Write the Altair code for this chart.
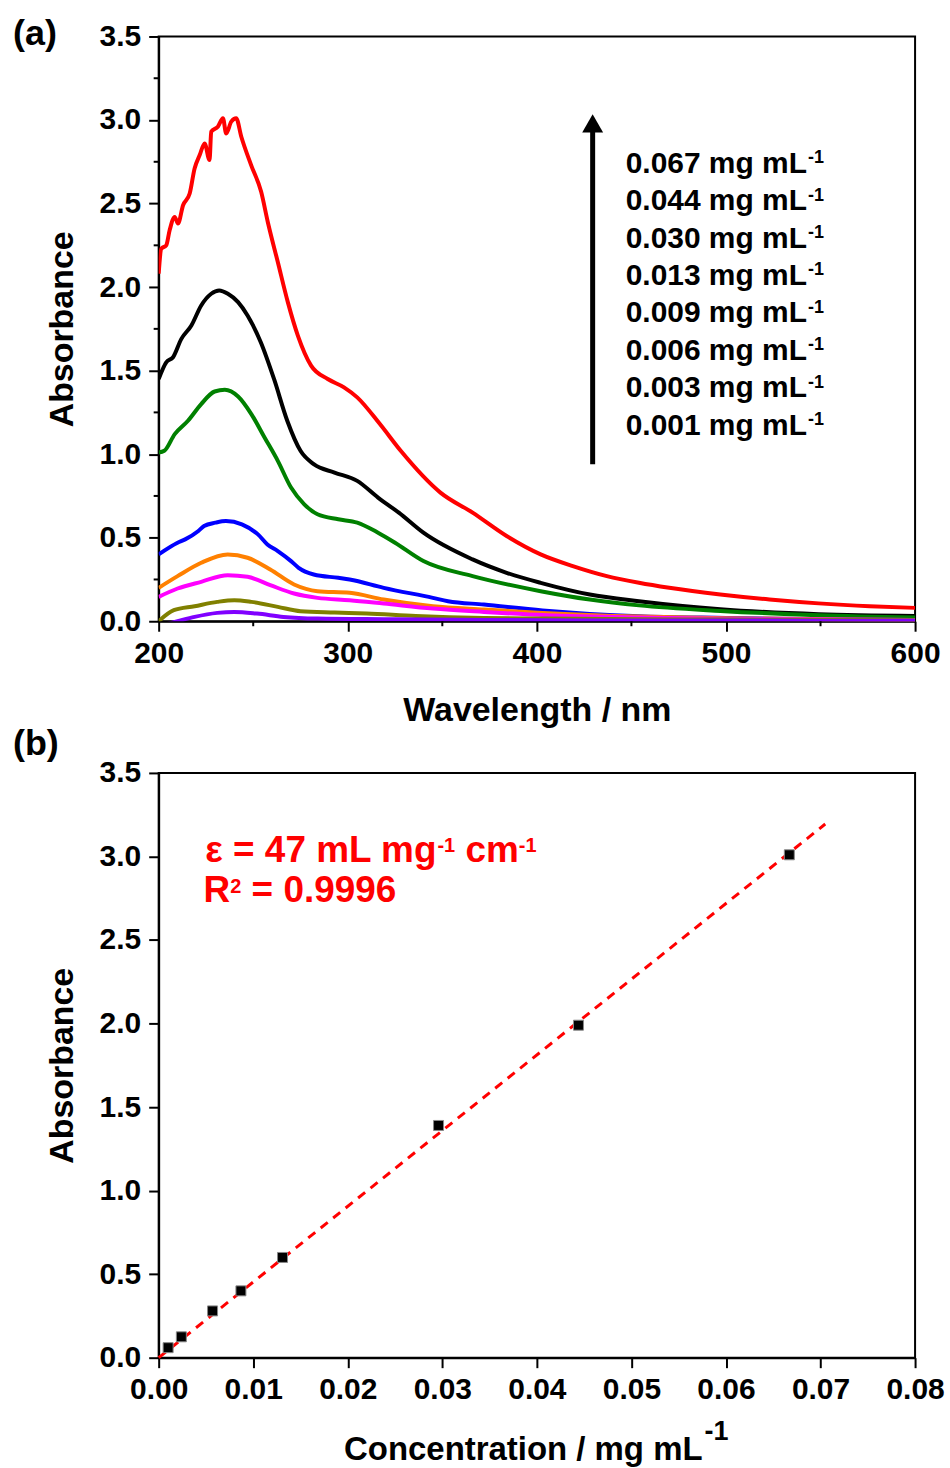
import altair as alt
import numpy as np
import pandas as pd

FONT = "Liberation Sans"

# ---------------- UV-vis spectra (panel a) ----------------
conc_labels = ["0.067", "0.044", "0.030", "0.013", "0.009", "0.006", "0.003", "0.001"]
line_colors = ["#FF0000", "#000000", "#008000", "#0000FF", "#FF8000", "#FF00FF", "#808000", "#8000FF"]

wl_067 = [200, 201.4, 204, 205.8, 208.5, 210.2, 212.9, 216.4, 219, 221.7,
          224.3, 226.9, 227.8, 231.3, 234, 235.7, 238.4, 241, 243.7, 248.9,
          254.2, 257.7, 263, 268.3, 273.6, 280.6, 289.4, 298, 305, 317,
          328, 349, 366, 384, 402, 419, 437, 454, 470, 497,
          523, 549, 576, 600]
abs_067 = [2.08, 2.23, 2.25, 2.34, 2.42, 2.38, 2.49, 2.56, 2.71, 2.79,
           2.86, 2.76, 2.93, 2.96, 3.01, 2.92, 2.99, 3.01, 2.90, 2.73,
           2.57, 2.39, 2.15, 1.91, 1.71, 1.53, 1.45, 1.40, 1.34, 1.18,
           1.02, 0.77, 0.65, 0.51, 0.40, 0.33, 0.27, 0.23, 0.20, 0.16,
           0.13, 0.107, 0.09, 0.08]

wl_044 = [200, 204, 207.6, 212, 217.3, 222.5, 227.8, 232, 236.6, 242,
          247, 254, 261, 268, 275, 282, 293, 305, 316, 327,
          340, 366, 384, 402, 428, 454, 497, 549, 600]
abs_044 = [1.45, 1.55, 1.58, 1.69, 1.77, 1.89, 1.96, 1.98, 1.96, 1.91,
           1.83, 1.67, 1.45, 1.20, 1.02, 0.94, 0.89, 0.84, 0.74, 0.65,
           0.53, 0.37, 0.29, 0.23, 0.16, 0.12, 0.072, 0.042, 0.032]

wl_030 = [200, 203, 208.5, 215.5, 222.5, 229.6, 235, 242, 249, 256,
          263, 270, 277, 284, 295, 305, 316, 325, 340, 366,
          402, 428, 454, 497, 549, 600]
abs_030 = [1.01, 1.02, 1.12, 1.20, 1.30, 1.375, 1.385, 1.345, 1.24, 1.10,
           0.96, 0.80, 0.70, 0.64, 0.61, 0.59, 0.53, 0.47, 0.36, 0.27,
           0.18, 0.13, 0.095, 0.062, 0.036, 0.022]

wl_013 = [200, 210, 214, 221, 224, 230, 235.6, 244, 252.5, 257.5,
          263, 270, 274, 282, 295, 301, 319, 345, 353, 372,
          403, 454, 500, 550, 600]
abs_013 = [0.40, 0.47, 0.49, 0.54, 0.57, 0.59, 0.60, 0.58, 0.52, 0.46,
           0.42, 0.36, 0.32, 0.28, 0.26, 0.25, 0.20, 0.14, 0.12, 0.10,
           0.065, 0.03, 0.02, 0.012, 0.008]

wl_009 = [200, 210, 222.5, 236.5, 247, 259, 271.6, 284, 301, 319,
          345, 372, 403, 454, 500, 550, 600]
abs_009 = [0.20, 0.27, 0.35, 0.40, 0.38, 0.31, 0.22, 0.18, 0.17, 0.13,
           0.09, 0.07, 0.05, 0.028, 0.018, 0.012, 0.008]

wl_006 = [200, 210, 222.5, 236.5, 247, 259, 271.6, 284, 301, 319,
          345, 372, 405, 454, 500, 550, 600]
abs_006 = [0.146, 0.196, 0.236, 0.276, 0.266, 0.216, 0.166, 0.14, 0.126, 0.106,
           0.076, 0.056, 0.036, 0.022, 0.015, 0.01, 0.007]

wl_003 = [200, 208, 219, 231, 240, 249, 263, 275, 293, 310,
          336, 372, 405, 454, 500, 550, 600]
abs_003 = [0.0, 0.066, 0.09, 0.116, 0.126, 0.116, 0.086, 0.06, 0.052, 0.046,
           0.032, 0.02, 0.016, 0.012, 0.01, 0.008, 0.006]

wl_001 = [200, 210, 219, 231, 240, 252, 266, 284, 319, 372, 405, 500, 600]
abs_001 = [-0.03, 0.0, 0.026, 0.05, 0.056, 0.046, 0.026, 0.016, 0.012, 0.008,
           0.006, 0.004, 0.003]

# ---------------- calibration points (panel b) ----------------
conc_points = [0.0010, 0.0024, 0.0057, 0.0087, 0.0131, 0.0296, 0.0444, 0.0667]
abs_points = [0.06, 0.125, 0.28, 0.40, 0.60, 1.39, 1.99, 3.01]
fit_x_max = 0.0705

y_ticks = [0.0, 0.5, 1.0, 1.5, 2.0, 2.5, 3.0, 3.5]
y_minor = [0.25, 0.75, 1.25, 1.75, 2.25, 2.75, 3.25]
wl_ticks = [200, 300, 400, 500, 600]
wl_minor = [250, 350, 450, 550]
conc_ticks = [0.0, 0.01, 0.02, 0.03, 0.04, 0.05, 0.06, 0.07, 0.08]

# arrow beside the concentration list (data units of panel a)
arrow_wl = 429.5
arrow_from, arrow_to, arrow_head = 0.94, 2.95, 2.98

W, H = 758, 586
EM_ARIAL_BOLD = {"0.067 mg mL": 6.058, "cm": 1.445, "-1": 0.889, "R": 0.722, "2": 0.556, " ": 0.278}


def text_layer(txt, x, y, size, color="black", align="left", baseline="alphabetic"):
    """A single piece of text placed in pixel units of the panel."""
    return alt.Chart(pd.DataFrame({"t": [txt]})).mark_text(
        align=align, baseline=baseline, font=FONT, fontSize=size, fontWeight="bold", color=color
    ).encode(text="t:N", x=alt.value(x), y=alt.value(y))


spectra = {
    "0.067": (wl_067, abs_067), "0.044": (wl_044, abs_044),
    "0.030": (wl_030, abs_030), "0.013": (wl_013, abs_013),
    "0.009": (wl_009, abs_009), "0.006": (wl_006, abs_006),
    "0.003": (wl_003, abs_003), "0.001": (wl_001, abs_001),
}
rows = []
for lab in conc_labels:
    wl, ab = spectra[lab]
    for w, a in zip(wl, ab):
        rows.append({"wl": w, "A": a, "conc": lab})
spec_df = pd.DataFrame(rows)

# ---------- panel (a) ----------
xa = alt.X("wl:Q", scale=alt.Scale(domain=[200, 600], nice=False, zero=False),
           axis=alt.Axis(values=wl_ticks, format="d", title="Wavelength / nm", titlePadding=25))
ya = alt.Y("A:Q", scale=alt.Scale(domain=[0, 3.5], nice=False),
           axis=alt.Axis(values=y_ticks, format=".1f", title="Absorbance"))

lines = alt.Chart(spec_df).mark_line(strokeWidth=4, clip=True, interpolate="monotone").encode(
    x=xa, y=ya,
    color=alt.Color("conc:N", scale=alt.Scale(domain=conc_labels, range=line_colors), legend=None),
)

minor_y_a = alt.Chart(pd.DataFrame({"A": y_minor})).mark_rule(color="black", strokeWidth=2).encode(
    y=ya, x=alt.value(0), x2=alt.value(-5))
minor_x_a = alt.Chart(pd.DataFrame({"wl": wl_minor})).mark_rule(color="black", strokeWidth=2).encode(
    x=xa, y=alt.value(H), y2=alt.value(H + 5))

arrow_shaft = alt.Chart(pd.DataFrame({"wl": [arrow_wl], "A": [arrow_from], "A2": [arrow_to]})).mark_rule(
    color="black", strokeWidth=5).encode(x=xa, y=ya, y2="A2:Q")
arrow_tip = alt.Chart(pd.DataFrame({"wl": [arrow_wl], "A": [arrow_head]})).mark_point(
    shape="triangle-up", size=440, filled=True, color="black", opacity=1).encode(x=xa, y=ya)

# concentration list: main text plus a raised "-1"
LEG_SIZE, LEG_SUP = 30, 18
leg_x = 468
leg_sup_x = leg_x + EM_ARIAL_BOLD["0.067 mg mL"] * LEG_SIZE + 1
legend_layers = []
for i, lab in enumerate(conc_labels):
    yc = 126 + 37.5 * i
    legend_layers.append(text_layer(f"{lab} mg mL", leg_x, yc + 10.5, LEG_SIZE))
    legend_layers.append(text_layer("-1", leg_sup_x, yc + 1, LEG_SUP))

tag_a = text_layer("(a)", -146, 9, 36)

panel_a = alt.layer(lines, minor_y_a, minor_x_a, arrow_shaft, arrow_tip, *legend_layers, tag_a).properties(
    width=W, height=H)

# ---------- panel (b) ----------
xb = alt.X("c:Q", scale=alt.Scale(domain=[0, 0.08], nice=False, zero=False),
           axis=alt.Axis(values=conc_ticks, format=".2f", title=""))
yb = alt.Y("A:Q", scale=alt.Scale(domain=[0, 3.5], nice=False),
           axis=alt.Axis(values=y_ticks, format=".1f", title="Absorbance"))

px = np.array(conc_points)
py = np.array(abs_points)
slope = float(np.sum(px * py) / np.sum(px * px))
fit_df = pd.DataFrame({"c": [0.0, fit_x_max], "A": [0.0, slope * fit_x_max]})

fit_line = alt.Chart(fit_df).mark_line(color="#FF0000", strokeWidth=3, strokeDash=[9, 7]).encode(x=xb, y=yb)
points = alt.Chart(pd.DataFrame({"c": conc_points, "A": abs_points})).mark_square(
    size=100, color="black", opacity=1, stroke="#888888", strokeWidth=1).encode(x=xb, y=yb)

# red annotation with raised exponents
ANN, ANN_SUP = 37, 20
RED = "#FF0000"
eps_end = 45 + ANN * 6.308
cm_x = eps_end + 1 + EM_ARIAL_BOLD["-1"] * ANN_SUP + EM_ARIAL_BOLD[" "] * ANN
r_sup_x = 45 + EM_ARIAL_BOLD["R"] * ANN
r_rest_x = r_sup_x + EM_ARIAL_BOLD["2"] * ANN_SUP + EM_ARIAL_BOLD[" "] * ANN
ann_layers = [
    text_layer("\u03b5 = 47 mL mg", eps_end, 89, ANN, RED, align="right"),
    text_layer("-1", eps_end + 1, 79, ANN_SUP, RED),
    text_layer("cm", cm_x, 89, ANN, RED),
    text_layer("-1", cm_x + EM_ARIAL_BOLD["cm"] * ANN, 79, ANN_SUP, RED),
    text_layer("R", 45, 129, ANN, RED),
    text_layer("2", r_sup_x, 120, ANN_SUP, RED),
    text_layer("= 0.9996", r_rest_x, 129, ANN, RED),
]

# x-axis title with a raised exponent
xtitle_end = 545
xtitle_layers = [
    text_layer("Concentration / mg mL", xtitle_end, 689, 33, align="right"),
    text_layer("-1", xtitle_end + 2, 668, 27),
]

tag_b = text_layer("(b)", -146, -18, 36)

panel_b = alt.layer(fit_line, points, *ann_layers, *xtitle_layers, tag_b).properties(width=W, height=H)

chart = alt.vconcat(panel_a, panel_b, spacing=-3).properties(
    padding={"left": 12, "top": 14, "right": 4, "bottom": 4}
).configure_view(
    stroke="black", strokeWidth=2
).configure_axis(
    domainColor="black", domainWidth=2, tickColor="black", tickWidth=2, tickSize=10,
    labelFont=FONT, labelFontSize=30, labelFontWeight="bold", labelColor="black",
    titleFont=FONT, titleFontSize=34, titleFontWeight="bold", titleColor="black",
    grid=False, labelFlush=False, labelOverlap=False, labelPadding=7
).configure_axisY(
    titlePadding=20, labelPadding=8
)

chart.save("out.html", embed_options={"renderer": "svg", "actions": False})
